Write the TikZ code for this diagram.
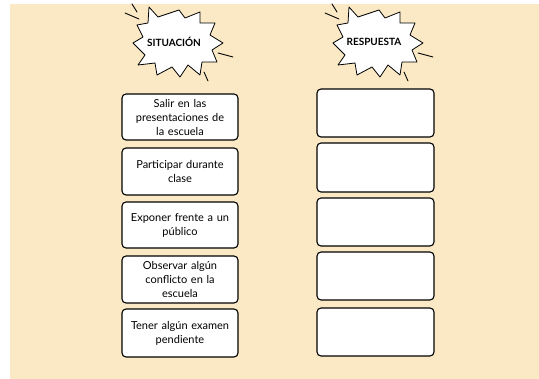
\documentclass[tikz,border=0pt]{standalone}
\usepackage{fontspec}
\setmainfont{Lato}
\definecolor{beige}{RGB}{250,233,196}
\tikzset{
  card/.style={draw=black, line width=1.1pt, fill=white, rounded corners=4pt},
  cardtext/.style={align=center, text width=112pt, font=\fontsize{11}{14}\selectfont},
  burst/.style={draw=black, line width=0.8pt, fill=white, line join=round},
  ray/.style={draw=black, line width=0.9pt, line cap=round},
  title/.style={font=\fontsize{10}{12}\selectfont\bfseries}
}
\begin{document}
\begin{tikzpicture}[x=1pt,y=-1pt]
\useasboundingbox (0,0) rectangle (539,379);
\fill[beige] (10,4) rectangle (539,379);

% starbursts
\foreach \dx/\nm/\txt in {0/sit/SITUACIÓN, 200/res/RESPUESTA}{
  \begin{scope}[xshift=\dx pt]
    \draw[burst] (149,7) -- (158,17) -- (179,10) -- (185,18) -- (200,12) -- (200,23) -- (215,23) -- (210,35) -- (223,43) -- (212,50) -- (217,62) -- (202,62) -- (200,75) -- (188,65) -- (180,77) -- (172,67) -- (157,75) -- (155,63) -- (138,65) -- (145,55) -- (133,43) -- (143,37) -- (137,25) -- (148,23) -- cycle;
    \draw[ray] (125,13) -- (139,19);
    \draw[ray] (132,4) -- (137,12);
    \draw[ray] (218,53) -- (233,57);
    \draw[ray] (204,72) -- (208,81);
    \node[title] (\nm) at (174,42) {\txt};
  \end{scope}
}

% left cards
\draw[card] (122,94) rectangle (238,140);
\node[cardtext] (s1) at (180,117) {Salir en las\\presentaciones de\\la escuela};
\draw[card] (122,148) rectangle (238,195);
\node[cardtext] (s2) at (180,171.5) {Participar durante\\clase};
\draw[card] (122,202) rectangle (238,248);
\node[cardtext] (s3) at (180,225) {Exponer frente a un\\público};
\draw[card] (122,256) rectangle (238,303);
\node[cardtext] (s4) at (180,279.5) {Observar algún\\conflicto en la\\escuela};
\draw[card] (122,309) rectangle (238,357);
\node[cardtext] (s5) at (180,333) {Tener algún examen\\pendiente};

% right cards
\draw[card] (317,89) rectangle (434,137) node[midway] (r1) {};
\draw[card] (317,143) rectangle (434,192) node[midway] (r2) {};
\draw[card] (317,198) rectangle (434,246) node[midway] (r3) {};
\draw[card] (317,252) rectangle (434,300) node[midway] (r4) {};
\draw[card] (317,308) rectangle (434,356) node[midway] (r5) {};
\end{tikzpicture}
\end{document}
